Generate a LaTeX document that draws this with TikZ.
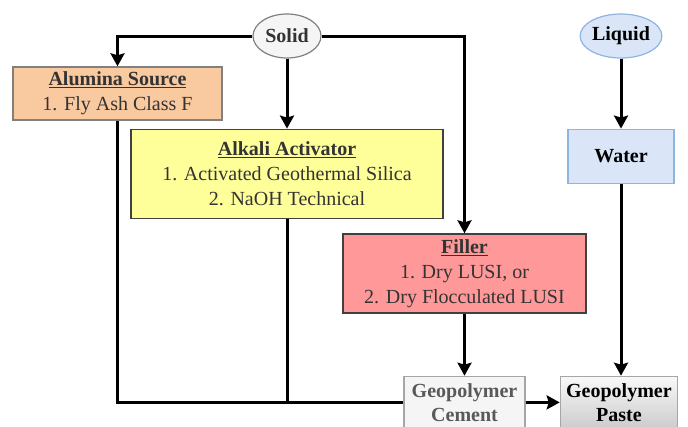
\documentclass[tikz,border=0pt]{standalone}
\usepackage{fontspec}
\setmainfont{Liberation Serif}
\usetikzlibrary{arrows.meta,positioning,shapes.geometric,calc}
\definecolor{aluminafill}{HTML}{F9C9A0}
\definecolor{alkalifill}{HTML}{FFFF99}
\definecolor{fillerfill}{HTML}{FF9999}
\definecolor{waterfill}{HTML}{DAE6F7}
\definecolor{waterline}{HTML}{8EB4E3}
\definecolor{boxline}{HTML}{404040}

\begin{document}
\begin{tikzpicture}[
      x=1pt,y=-1pt,line width=3pt,
      node distance = 70pt and 34pt,
      font=\fontsize{20}{25}\selectfont,
      term/.style = {ellipse,draw=gray,line width=1.2pt,fill=gray!8,minimum width=68pt,minimum height=44pt,inner sep=0pt,font=\fontsize{20}{25}\selectfont\bfseries,text=black!80},
      process/.style = {rectangle,draw=boxline,line width=1.4pt,align=center,text=black!80,inner sep=2pt},
      result/.style = {process,draw=gray!70,minimum width=121pt,minimum height=52pt,inner sep=1pt,font=\fontsize{20}{24}\selectfont\bfseries},
      arrow/.style = {-{Stealth[length=13pt,width=14pt,inset=2pt]}}
    ]
      \useasboundingbox (0,0) rectangle (688,426);
      \clip (0,0) rectangle (688,426);
      \node (solid)[term] at (287,36) {Solid};
      \node (liquid)[term,fill=waterfill,draw=waterline,minimum width=71pt,text=black] at (621,36) {Liquid};
      \node (alumina)[process,draw=gray,fill=aluminafill,minimum width=209pt,minimum height=53pt] at (117.5,93.5) {\underline{\textbf{Alumina Source}}\\1. Fly Ash Class F};
      \node (alkali)[process,fill=alkalifill,minimum width=312pt,minimum height=89pt,below = of solid] {\underline{\textbf{Alkali Activator}}\\1. Activated Geothermal Silica\\2. NaOH Technical};
      \node (filler)[process,fill=fillerfill,minimum width=243pt,minimum height=79pt] at (464.5,273.5) {\underline{\textbf{Filler}}\\1. Dry LUSI, or\\2. Dry Flocculated LUSI};
      \node (water)[process,draw=waterline,fill=waterfill,minimum width=106pt,minimum height=54pt,font=\fontsize{20}{25}\selectfont\bfseries,text=black,below = of liquid] {Water};
      \node (cement)[result,fill=gray!8,text=black!65,below = 62pt of filler] {Geopolymer\\Cement};
      \node (paste)[result,top color=gray!5,bottom color=gray!40,minimum width=117pt,text=black,right = of cement] {Geopolymer\\Paste};

      \draw [arrow] (solid.west) -| (alumina.north);
      \draw [arrow] (solid.south) -- (alkali.north);
      \draw [arrow] (solid.east) -| (filler.north);
      \draw (alumina.south) |- (cement.west);
      \draw (alkali.south) -- (alkali.south |- cement.west);
      \draw [arrow] (filler.south) -- (cement.north);
      \draw [arrow] (cement.east) -- (paste.west);
      \draw [arrow] (liquid.south) -- (water.north);
      \draw [arrow] (water.south) -- (water.south |- paste.north);
    \end{tikzpicture}
\end{document}
